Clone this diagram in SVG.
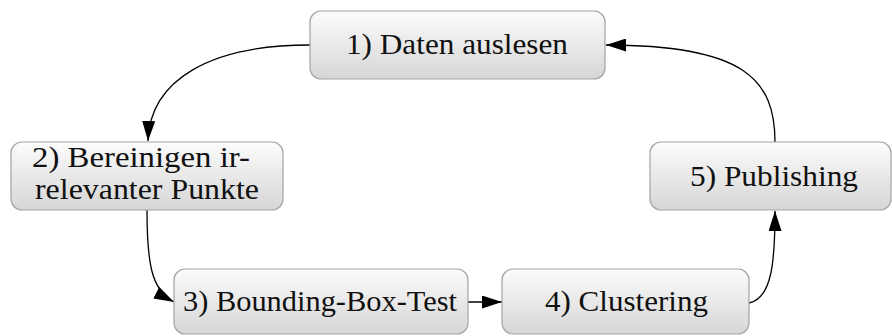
<svg xmlns="http://www.w3.org/2000/svg" width="892" height="336" viewBox="0 0 892 336">
  <defs>
    <linearGradient id="boxFill" x1="0" y1="0" x2="0" y2="1">
      <stop offset="0" stop-color="#fcfcfc"/>
      <stop offset="1" stop-color="#d6d6d6"/>
    </linearGradient>
    <marker id="arrow" viewBox="0 0 20 13" refX="20" refY="6.5" markerWidth="20" markerHeight="13" markerUnits="userSpaceOnUse" orient="auto">
      <path d="M0,0 L20,6.5 L0,13 Z" fill="#000"/>
    </marker>
    <style>
      .box { fill: url(#boxFill); stroke: #a3a3a3; stroke-width: 1.2; }
      .label { font-size: 30px; fill: #111; }
      .edge { fill: none; stroke: #000; stroke-width: 1.3; marker-end: url(#arrow); }
    </style>
  </defs>
  <rect width="892" height="336" fill="#fff"/>

  <!-- connectors -->
  <g id="edges">
    <path class="edge" d="M310,45 C210,45 150,80 148,141"/>
    <path class="edge" d="M147,210 C147,262 151,290 174,302"/>
    <path class="edge" d="M468,302 L502,302"/>
    <path class="edge" d="M749,303 C772,298 775,262 775,211"/>
    <path class="edge" d="M775,142 C775,80 745,45 606,45"/>
  </g>

  <!-- process steps -->
  <g font-family="'Liberation Serif', 'Times New Roman', 'DejaVu Serif', serif">
    <g id="n1">
      <rect class="box" x="310" y="11" width="295" height="68" rx="11"/>
      <text class="label" x="457" y="54" text-anchor="middle" textLength="222" lengthAdjust="spacingAndGlyphs">1) Daten auslesen</text>
    </g>
    <g id="n2">
      <rect class="box" x="11" y="142" width="272" height="68" rx="11"/>
      <text class="label" x="32" y="167" textLength="218" lengthAdjust="spacingAndGlyphs">2) Bereinigen ir-</text>
      <text class="label" x="35" y="199" textLength="224" lengthAdjust="spacingAndGlyphs">relevanter Punkte</text>
    </g>
    <g id="n3">
      <rect class="box" x="174" y="269" width="294" height="65" rx="11"/>
      <text class="label" x="183" y="311" textLength="274" lengthAdjust="spacingAndGlyphs">3) Bounding-Box-Test</text>
    </g>
    <g id="n4">
      <rect class="box" x="502" y="269" width="247" height="65" rx="11"/>
      <text class="label" x="545" y="311" textLength="163" lengthAdjust="spacingAndGlyphs">4) Clustering</text>
    </g>
    <g id="n5">
      <rect class="box" x="650" y="142" width="241" height="68" rx="11"/>
      <text class="label" x="690" y="186" textLength="168" lengthAdjust="spacingAndGlyphs">5) Publishing</text>
    </g>
  </g>
</svg>
